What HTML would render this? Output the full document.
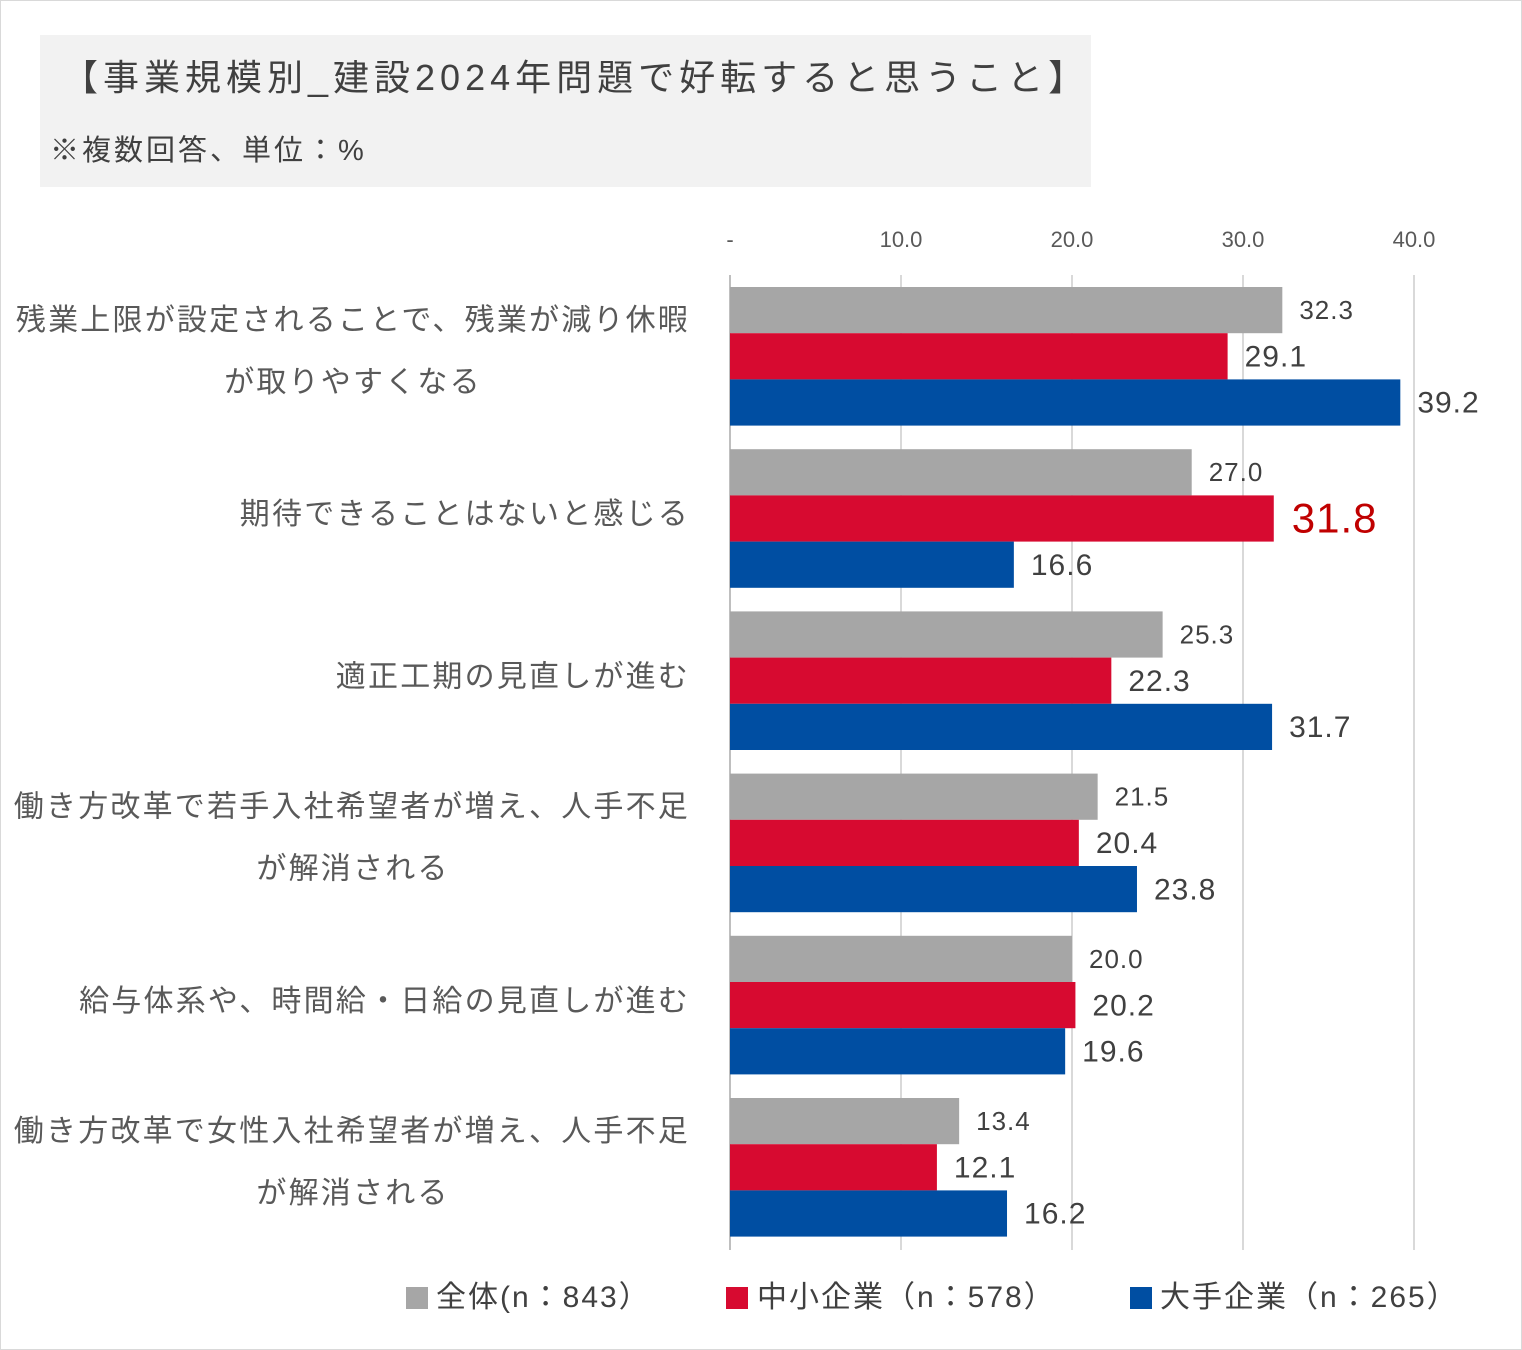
<!DOCTYPE html>
<html><head><meta charset="utf-8"><style>
body{margin:0;background:#fff;}
svg{display:block;font-family:"Liberation Sans","Noto Sans CJK JP",sans-serif;}
</style></head><body>
<svg id="chart" width="1522" height="1350">
<rect x="0.5" y="0.5" width="1521" height="1349" fill="#fff" stroke="#d9d9d9"/>
<rect x="40" y="35" width="1051" height="152" fill="#f2f2f2"/>
<text x="62" y="90" font-size="36" letter-spacing="5" fill="#404040">【事業規模別_建設2024年問題で好転すると思うこと】</text>
<text x="50" y="160" font-size="29" letter-spacing="3" fill="#404040">※複数回答、単位：%</text>
<g id="grid"></g><g id="bars"></g><g id="labels"></g>
<g>
<rect x="406" y="1287" width="22" height="22" fill="#a6a6a6"/>
<text x="436" y="1307" font-size="30" letter-spacing="2" fill="#404040">全体(n：843）</text>
<rect x="726" y="1287" width="22" height="22" fill="#d70a30"/>
<text x="757" y="1307" font-size="30" letter-spacing="2" fill="#404040">中小企業（n：578）</text>
<rect x="1130" y="1287" width="22" height="22" fill="#004ea2"/>
<text x="1160" y="1307" font-size="30" letter-spacing="2" fill="#404040">大手企業（n：265）</text>
</g>
</svg>
<script>
const categories=[["残業上限が設定されることで、残業が減り休暇","が取りやすくなる"],["期待できることはないと感じる"],["適正工期の見直しが進む"],["働き方改革で若手入社希望者が増え、人手不足","が解消される"],["給与体系や、時間給・日給の見直しが進む"],["働き方改革で女性入社希望者が増え、人手不足","が解消される"]];
const seriesAll=[32.3,27.0,25.3,21.5,20.0,13.4];
const seriesSme=[29.1,31.8,22.3,20.4,20.2,12.1];
const seriesLarge=[39.2,16.6,31.7,23.8,19.6,16.2];
const tickValues=[0,10,20,30,40];
const tickLabels=["-","10.0","20.0","30.0","40.0"];
const NS="http://www.w3.org/2000/svg";
const x=v=>730+v*17.1;
const gy=i=>287+i*162.2;
function mk(t,a,p,txt){const e=document.createElementNS(NS,t);for(const k in a)e.setAttribute(k,a[k]);if(txt!==undefined)e.textContent=txt;document.getElementById(p).appendChild(e);return e;}
tickValues.forEach((v,i)=>{
 const l=mk('line',{x1:x(v),x2:x(v),y1:275,y2:1250,stroke:i==0?'#bfbfbf':'#d9d9d9','stroke-width':2},'grid');
 
 
 const t=mk('text',{x:x(v),y:247,'font-size':22,fill:'#595959','text-anchor':'middle'},'grid',tickLabels[i]);
 
 
});
const ser=[[seriesAll,'#a6a6a6',26,'#404040'],[seriesSme,'#d70a30',30,'#404040'],[seriesLarge,'#004ea2',30,'#404040']];
categories.forEach((c,i)=>{
 ser.forEach((s,j)=>{
  const v=s[0][i],y=gy(i)+j*46.2;
  const r=mk('rect',{x:x(0),y:y,width:x(v)-x(0),height:46.2,fill:s[1]},'bars');
  
  
  const hi=(j==1&&i==1);
  const t=mk('text',{x:x(v)+(hi?18:17),y:y+23+(hi?14:(s[2]/2.9)),'font-size':hi?42:s[2],'letter-spacing':1,fill:hi?'#c00000':s[3]},'labels',v.toFixed(1));
  
  
 });
 const cy=gy(i)+69;
 c.forEach((line,k)=>{
  const yy=c.length==1?cy+6:cy-26+k*62;
  const t=mk('text',{x:k==0?690:353,y:yy,'font-size':30,'letter-spacing':2.2,fill:'#595959','text-anchor':k==0?'end':'middle'},'labels',line);
  
  
 });
});
</script>
</body></html>
